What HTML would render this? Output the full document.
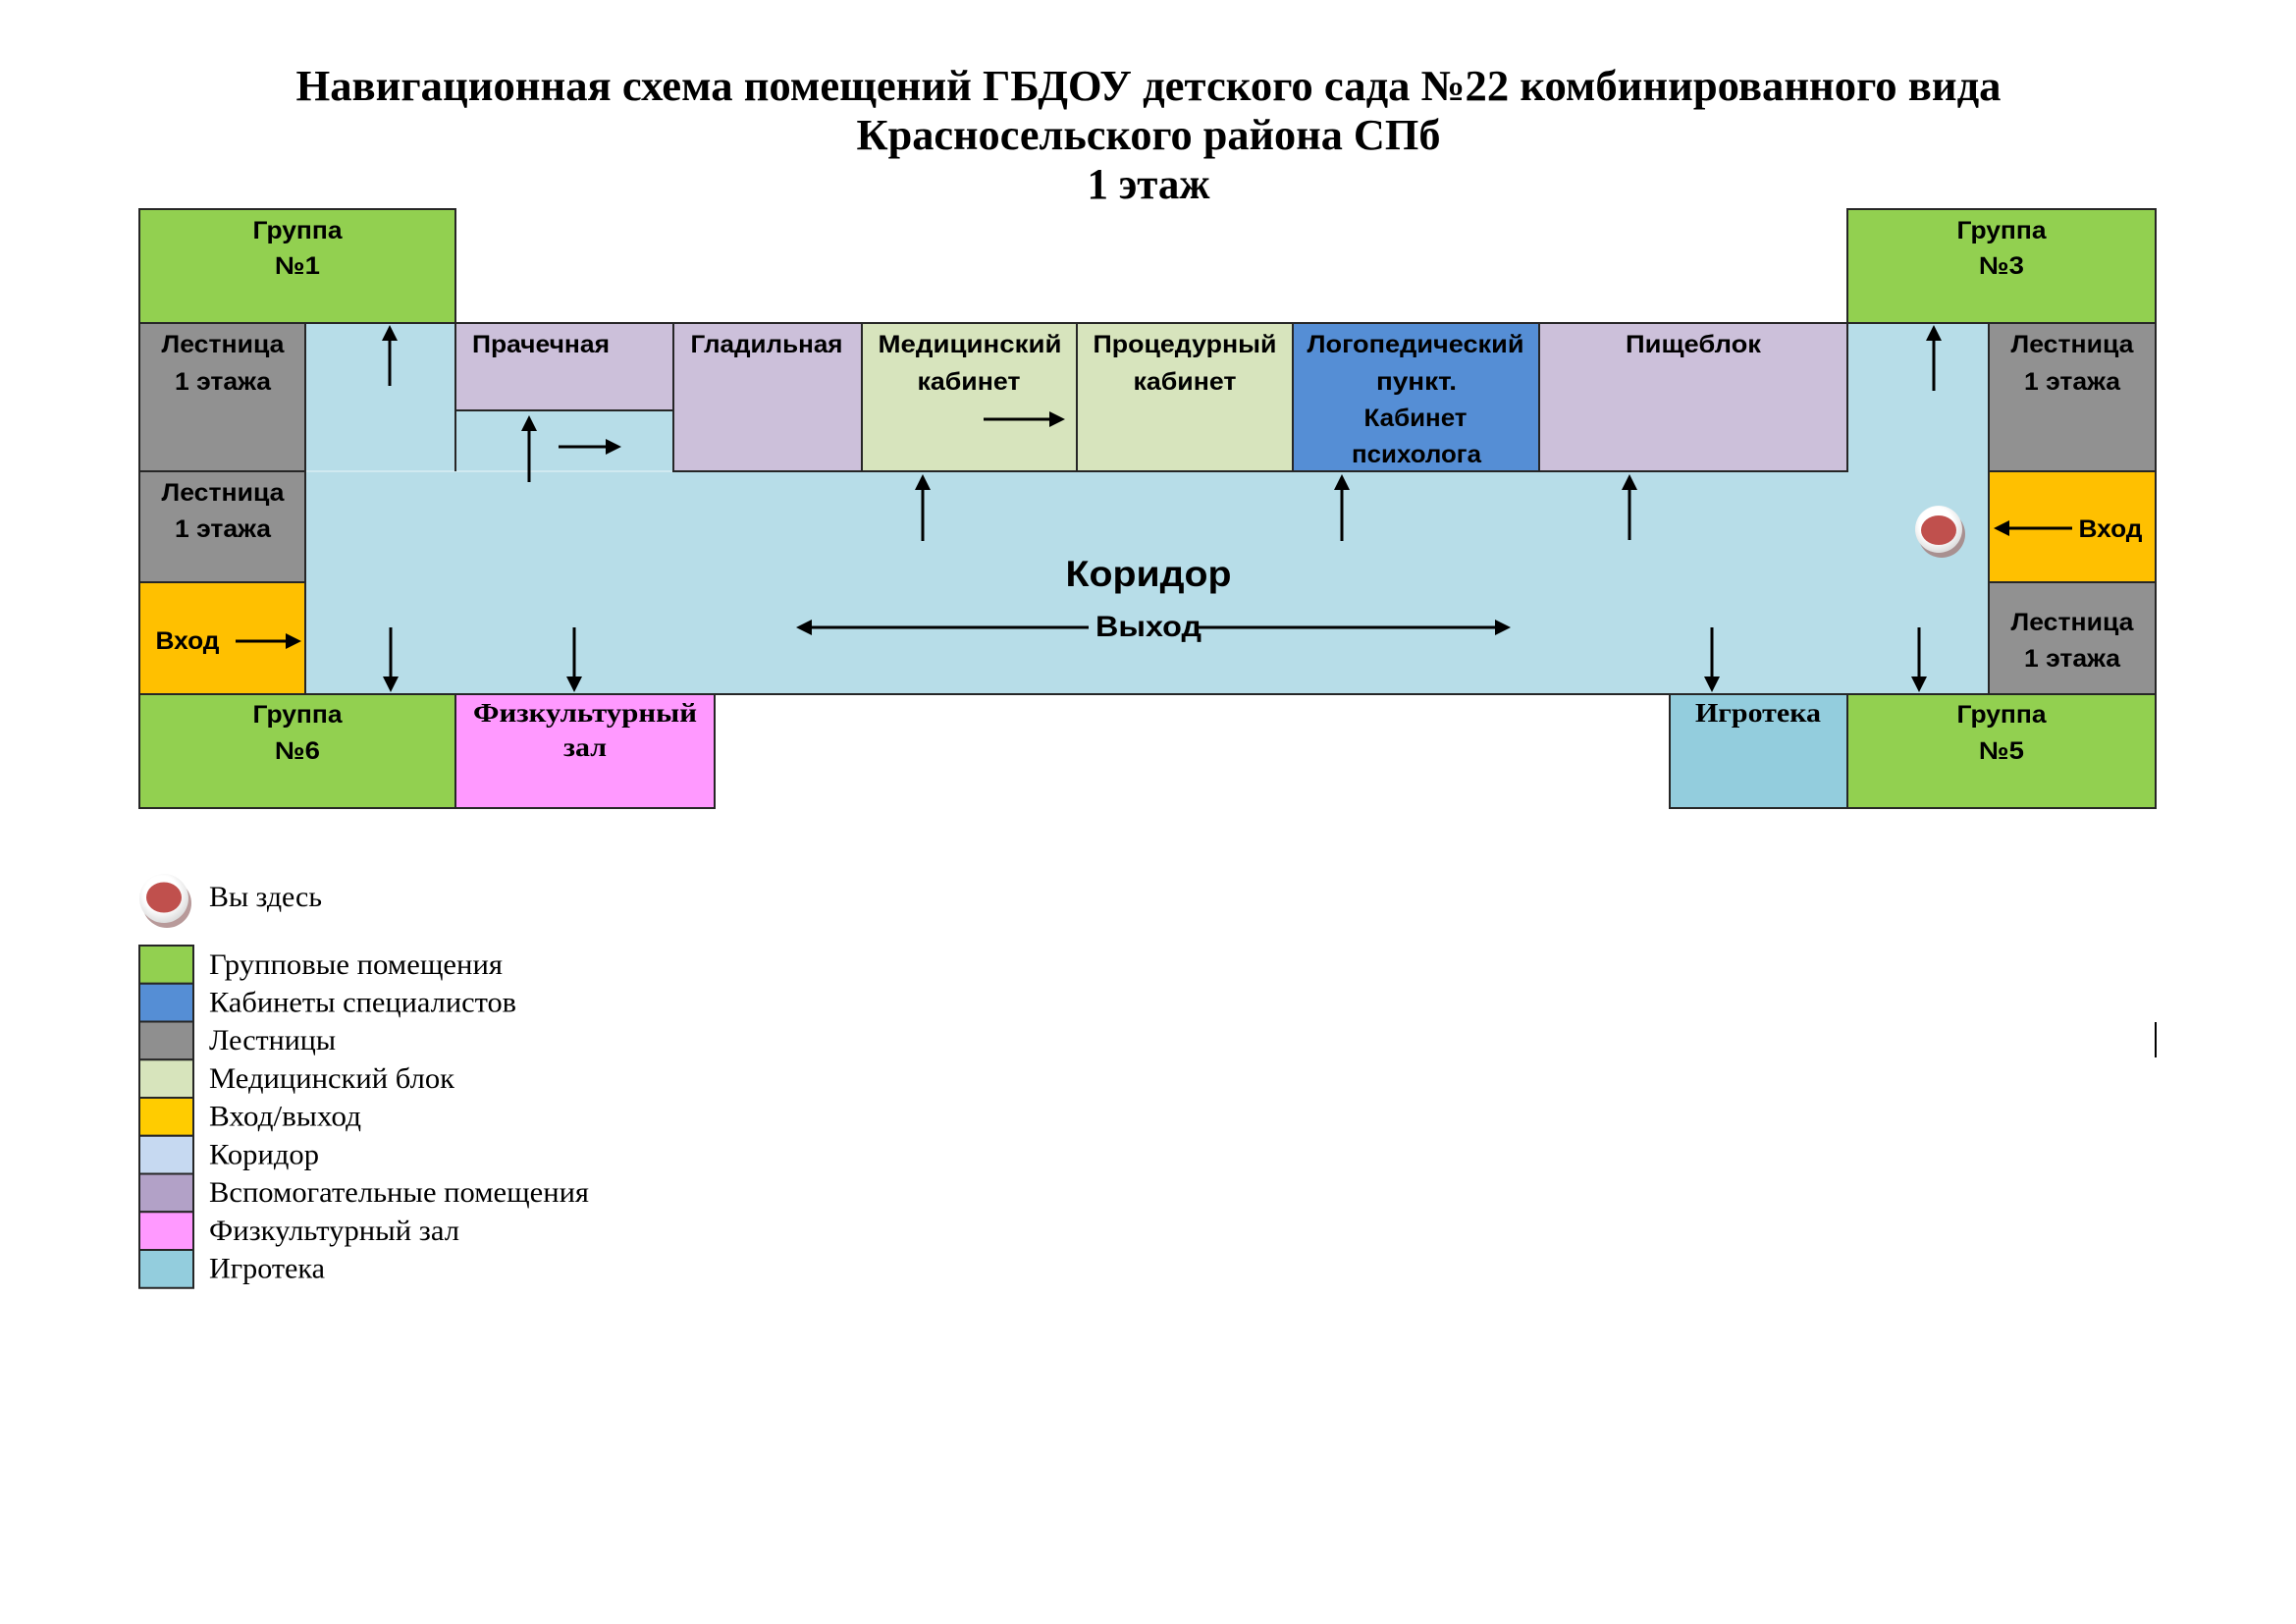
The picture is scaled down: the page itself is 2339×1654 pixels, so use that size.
<!DOCTYPE html>
<html>
<head>
<meta charset="utf-8">
<style>
html,body{margin:0;padding:0;background:#fff;}
svg{display:block;}
</style>
</head>
<body>
<svg xmlns="http://www.w3.org/2000/svg" width="2339" height="1654" viewBox="0 0 2339 1654">
<defs>
<radialGradient id="wg" cx="0.45" cy="0.4" r="0.6">
<stop offset="0.6" stop-color="#ffffff"/>
<stop offset="1" stop-color="#dcdcdc"/>
</radialGradient>
</defs>
<rect x="0" y="0" width="2339" height="1654" fill="#ffffff"/>

<!-- Title -->
<g font-family="'Liberation Serif', 'Noto Serif CJK SC', serif" font-weight="bold" font-size="44" fill="#000" text-anchor="middle">
<text x="1170" y="102" textLength="1737" lengthAdjust="spacingAndGlyphs">Навигационная схема помещений ГБДОУ детского сада №22 комбинированного вида</text>
<text x="1170" y="152" textLength="595" lengthAdjust="spacingAndGlyphs">Красносельского района СПб</text>
<text x="1170" y="202" textLength="125" lengthAdjust="spacingAndGlyphs">1 этаж</text>
</g>

<!-- Corridor -->
<path d="M311,480 L311,329 L464,329 L464,418 L686,418 L686,480 L1882,480 L1882,329 L2026,329 L2026,707 L311,707 Z" fill="#b7dde8"/>
<line x1="311" y1="480" x2="686" y2="480" stroke="#d0e9f0" stroke-width="2"/>

<!-- Rooms -->
<g stroke="#262626" stroke-width="2">
<rect x="142" y="213" width="322" height="116" fill="#92d050"/>
<rect x="142" y="329" width="169" height="151" fill="#919191"/>
<rect x="142" y="480" width="169" height="113" fill="#919191"/>
<rect x="142" y="593" width="169" height="114" fill="#ffc000"/>
<rect x="142" y="707" width="322" height="116" fill="#92d050"/>
<rect x="464" y="707" width="264" height="116" fill="#ff99ff"/>
<rect x="464" y="329" width="222" height="89" fill="#ccc0da"/>
<rect x="686" y="329" width="192" height="151" fill="#ccc0da"/>
<rect x="878" y="329" width="219" height="151" fill="#d7e4bd"/>
<rect x="1097" y="329" width="220" height="151" fill="#d7e4bd"/>
<rect x="1317" y="329" width="251" height="151" fill="#558ed5"/>
<rect x="1568" y="329" width="314" height="151" fill="#ccc0da"/>
<rect x="1882" y="213" width="314" height="116" fill="#92d050"/>
<rect x="2026" y="329" width="170" height="151" fill="#919191"/>
<rect x="2026" y="480" width="170" height="113" fill="#ffc000"/>
<rect x="2026" y="593" width="170" height="114" fill="#919191"/>
<rect x="1701" y="707" width="181" height="116" fill="#93cddd"/>
<rect x="1882" y="707" width="314" height="116" fill="#92d050"/>
<line x1="464" y1="418" x2="464" y2="480"/>
<line x1="728" y1="707" x2="1701" y2="707"/>
</g>

<!-- Stray line -->
<line x1="2196" y1="1041" x2="2196" y2="1077" stroke="#000" stroke-width="2"/>

<!-- Room labels (sans bold) -->
<g font-family="'Liberation Sans', 'Noto Sans CJK SC', sans-serif" font-weight="bold" font-size="25" fill="#000" text-anchor="middle">
<text x="303" y="243" textLength="91" lengthAdjust="spacingAndGlyphs">Группа</text>
<text x="303" y="279" textLength="46" lengthAdjust="spacingAndGlyphs">№1</text>
<text x="2039" y="243" textLength="91" lengthAdjust="spacingAndGlyphs">Группа</text>
<text x="2039" y="279" textLength="46" lengthAdjust="spacingAndGlyphs">№3</text>
<text x="303" y="736" textLength="91" lengthAdjust="spacingAndGlyphs">Группа</text>
<text x="303" y="773" textLength="46" lengthAdjust="spacingAndGlyphs">№6</text>
<text x="2039" y="736" textLength="91" lengthAdjust="spacingAndGlyphs">Группа</text>
<text x="2039" y="773" textLength="46" lengthAdjust="spacingAndGlyphs">№5</text>

<text x="227" y="359" textLength="125" lengthAdjust="spacingAndGlyphs">Лестница</text>
<text x="227" y="397" textLength="98" lengthAdjust="spacingAndGlyphs">1 этажа</text>
<text x="227" y="510" textLength="125" lengthAdjust="spacingAndGlyphs">Лестница</text>
<text x="227" y="547" textLength="98" lengthAdjust="spacingAndGlyphs">1 этажа</text>
<text x="2111" y="359" textLength="125" lengthAdjust="spacingAndGlyphs">Лестница</text>
<text x="2111" y="397" textLength="98" lengthAdjust="spacingAndGlyphs">1 этажа</text>
<text x="2111" y="642" textLength="125" lengthAdjust="spacingAndGlyphs">Лестница</text>
<text x="2111" y="679" textLength="98" lengthAdjust="spacingAndGlyphs">1 этажа</text>

<text x="551" y="359" textLength="140" lengthAdjust="spacingAndGlyphs">Прачечная</text>
<text x="781" y="359" textLength="155" lengthAdjust="spacingAndGlyphs">Гладильная</text>
<text x="988" y="359" textLength="187" lengthAdjust="spacingAndGlyphs">Медицинский</text>
<text x="987" y="397" textLength="105" lengthAdjust="spacingAndGlyphs">кабинет</text>
<text x="1207" y="359" textLength="187" lengthAdjust="spacingAndGlyphs">Процедурный</text>
<text x="1207" y="397" textLength="105" lengthAdjust="spacingAndGlyphs">кабинет</text>
<text x="1442" y="359" textLength="221" lengthAdjust="spacingAndGlyphs">Логопедический</text>
<text x="1443" y="397" textLength="82" lengthAdjust="spacingAndGlyphs">пункт.</text>
<text x="1442" y="434" textLength="105" lengthAdjust="spacingAndGlyphs">Кабинет</text>
<text x="1443" y="471" textLength="132" lengthAdjust="spacingAndGlyphs">психолога</text>
<text x="1725" y="359" textLength="138" lengthAdjust="spacingAndGlyphs">Пищеблок</text>

<text x="191" y="661" textLength="65" lengthAdjust="spacingAndGlyphs">Вход</text>
<text x="2150" y="547" textLength="65" lengthAdjust="spacingAndGlyphs">Вход</text>

<text x="1170" y="597" font-size="37" textLength="169" lengthAdjust="spacingAndGlyphs">Коридор</text>
<text x="1170" y="648" font-size="30" textLength="108" lengthAdjust="spacingAndGlyphs">Выход</text>
</g>

<!-- Serif bold labels -->
<g font-family="'Liberation Serif', 'Noto Serif CJK SC', serif" font-weight="bold" font-size="27" fill="#000" text-anchor="middle">
<text x="596" y="735" textLength="228" lengthAdjust="spacingAndGlyphs">Физкультурный</text>
<text x="596" y="770" textLength="44" lengthAdjust="spacingAndGlyphs">зал</text>
<text x="1791" y="735" textLength="128" lengthAdjust="spacingAndGlyphs">Игротека</text>
</g>

<!-- Arrows -->
<g stroke="#000" stroke-width="3" fill="none">
<line x1="397" y1="393" x2="397" y2="345"/>
<line x1="539" y1="491" x2="539" y2="437"/>
<line x1="569" y1="455" x2="619" y2="455"/>
<line x1="940" y1="551" x2="940" y2="497"/>
<line x1="1002" y1="427" x2="1071" y2="427"/>
<line x1="1367" y1="551" x2="1367" y2="497"/>
<line x1="1660" y1="550" x2="1660" y2="497"/>
<line x1="1970" y1="398" x2="1970" y2="345"/>
<line x1="2111" y1="538" x2="2045" y2="538"/>
<line x1="240" y1="653" x2="293" y2="653"/>
<line x1="398" y1="639" x2="398" y2="691"/>
<line x1="585" y1="639" x2="585" y2="691"/>
<line x1="1744" y1="639" x2="1744" y2="691"/>
<line x1="1955" y1="639" x2="1955" y2="691"/>
<line x1="1109" y1="639" x2="825" y2="639"/>
<line x1="1219" y1="639" x2="1525" y2="639"/>
</g>
<g fill="#000">
<polygon points="397,331 389,347 405,347"/>
<polygon points="539,423 531,439 547,439"/>
<polygon points="633,455 617,447 617,463"/>
<polygon points="940,483 932,499 948,499"/>
<polygon points="1085,427 1069,419 1069,435"/>
<polygon points="1367,483 1359,499 1375,499"/>
<polygon points="1660,483 1652,499 1668,499"/>
<polygon points="1970,331 1962,347 1978,347"/>
<polygon points="2031,538 2047,530 2047,546"/>
<polygon points="307,653 291,645 291,661"/>
<polygon points="398,705 390,689 406,689"/>
<polygon points="585,705 577,689 593,689"/>
<polygon points="1744,705 1736,689 1752,689"/>
<polygon points="1955,705 1947,689 1963,689"/>
<polygon points="811,639 827,631 827,647"/>
<polygon points="1539,639 1523,631 1523,647"/>
</g>

<!-- You are here marker (map) -->
<circle cx="1978" cy="544" r="24" fill="#a89090"/>
<circle cx="1975" cy="539" r="24" fill="url(#wg)"/>
<ellipse cx="1975" cy="540" rx="18" ry="15" fill="#c0504d"/>

<!-- Legend -->
<circle cx="170" cy="920" r="25" fill="#b89a9a"/>
<circle cx="167" cy="915" r="25" fill="url(#wg)"/>
<ellipse cx="167" cy="914" rx="18" ry="15.5" fill="#c0504d"/>

<g stroke="#262626" stroke-width="2">
<rect x="142" y="963" width="55" height="38.75" fill="#92d050"/>
<rect x="142" y="1001.75" width="55" height="38.75" fill="#558ed5"/>
<rect x="142" y="1040.5" width="55" height="38.75" fill="#8f8f8f"/>
<rect x="142" y="1079.25" width="55" height="38.75" fill="#d7e4bc"/>
<rect x="142" y="1118" width="55" height="38.75" fill="#ffcc00"/>
<rect x="142" y="1156.75" width="55" height="38.75" fill="#c6d9f1"/>
<rect x="142" y="1195.5" width="55" height="38.75" fill="#b2a1c7"/>
<rect x="142" y="1234.25" width="55" height="38.75" fill="#ff99ff"/>
<rect x="142" y="1273" width="55" height="38.75" fill="#93cddd"/>
</g>

<g font-family="'Liberation Serif', 'Noto Serif CJK SC', serif" font-size="30" fill="#000">
<text x="213" y="923" textLength="115" lengthAdjust="spacingAndGlyphs">Вы здесь</text>
<text x="213" y="992" textLength="299" lengthAdjust="spacingAndGlyphs">Групповые помещения</text>
<text x="213" y="1030.5" textLength="313" lengthAdjust="spacingAndGlyphs">Кабинеты специалистов</text>
<text x="213" y="1069.2" textLength="129" lengthAdjust="spacingAndGlyphs">Лестницы</text>
<text x="213" y="1108" textLength="250" lengthAdjust="spacingAndGlyphs">Медицинский блок</text>
<text x="213" y="1146.7" textLength="155" lengthAdjust="spacingAndGlyphs">Вход/выход</text>
<text x="213" y="1185.5" textLength="112" lengthAdjust="spacingAndGlyphs">Коридор</text>
<text x="213" y="1224.2" textLength="387" lengthAdjust="spacingAndGlyphs">Вспомогательные помещения</text>
<text x="213" y="1263" textLength="255" lengthAdjust="spacingAndGlyphs">Физкультурный зал</text>
<text x="213" y="1301.7" textLength="118" lengthAdjust="spacingAndGlyphs">Игротека</text>
</g>
</svg>
</body>
</html>
